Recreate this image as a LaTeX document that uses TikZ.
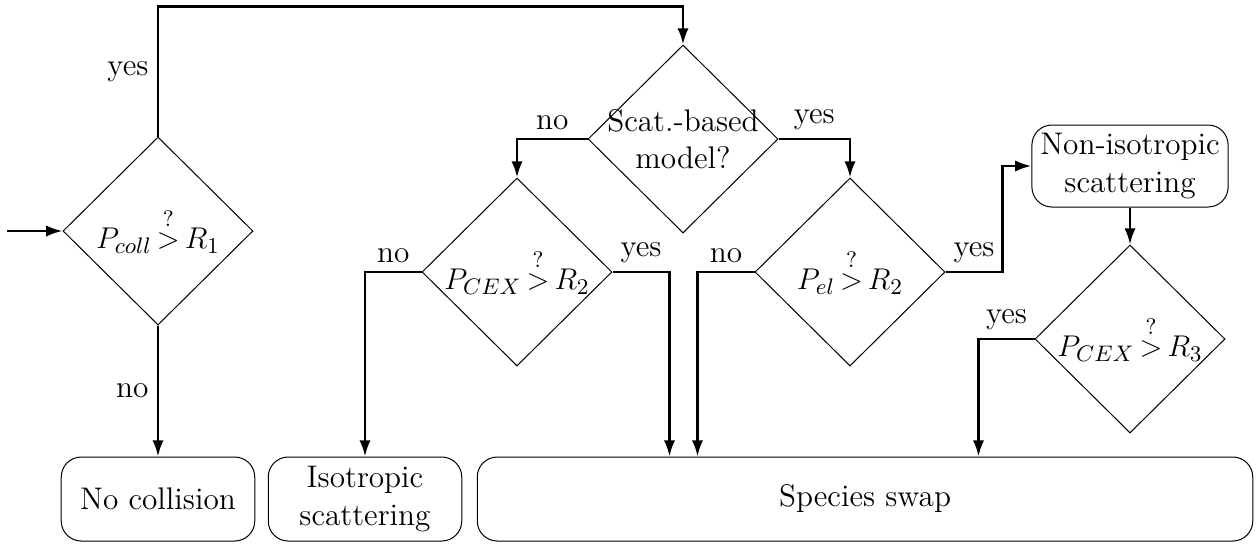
\documentclass[tikz,border=0pt]{standalone}
\usepackage{amsmath}
\usetikzlibrary{shapes.geometric}
\usetikzlibrary{arrows.meta}

\begin{document}
\begin{tikzpicture}
    [
    x=0.4pt, y=-0.4pt,
    decision/.style={diamond,draw,thin,aspect=1,inner sep=-6pt,align=center,minimum width=76pt,minimum height=75.2pt,font={\fontsize{12.5}{15}\selectfont\thickmuskip 3mu\relax}},
    outcome/.style={rectangle,draw,thin,rounded corners=8pt,align=center,minimum height=33.6pt,font=\fontsize{12.5}{15}\selectfont},
    flow/.style={line width=1pt,-{Latex[length=6.5pt,width=4.5pt]}},
    answer/.style={font=\fontsize{12.5}{15}\selectfont},
    ]
    \useasboundingbox (0,0) rectangle (1257,543);

    \node (dcoll) at (158,231) [decision] {$P_{coll} \overset{?}{>} R_1$};
    \node (dmodel) at (683,139) [decision] {Scat.-based\\model?};
    \node (dcex) at (517,272) [decision] {$P_{CEX} \overset{?}{>} R_2$};
    \node (del) at (850,272) [decision] {$P_{el} \overset{?}{>} R_2$};
    \node (noniso) at (1130,166) [outcome,minimum width=77.6pt,minimum height=32.8pt] {Non-isotropic\\scattering};
    \node (dcex3) at (1130,339) [decision] {$P_{CEX} \overset{?}{>} R_3$};
    \node (nocoll) at (158,499) [outcome,minimum width=77.4pt] {No collision};
    \node (iso) at (365,499) [outcome,minimum width=77.4pt] {Isotropic\\scattering};
    \node (swap) at (865,499) [outcome,minimum width=310.2pt] {Species swap};
    \coordinate (start) at (7,231);

    \draw [flow] (start) to (dcoll.west);
    \draw [flow] (dcoll.north) -- node (yes1) [answer,left] {yes} ++(0,-130) -| (dmodel.north);
    \draw [flow] (dcoll.south) -- node (no1) [answer,left] {no} (nocoll.north);
    \draw [flow] (dmodel.west) -| node (no2) [answer,above,pos=0.25] {no} (dcex.north);
    \draw [flow] (dmodel.east) -| node (yes2) [answer,above,pos=0.25] {yes} (del.north);
    \draw [flow] (dcex.west) -| node (no3) [answer,above,pos=0.25] {no} (iso.north);
    \draw [flow] (dcex.east) -- node (yes3) [answer,above] {yes} ++(57,0) coordinate (c1) -- (c1 |- swap.north);
    \draw [flow] (del.west) -- node (no4) [answer,above] {no} ++(-57,0) coordinate (c2) -- (c2 |- swap.north);
    \draw [flow] (del.east) -- node (yes4) [answer,above] {yes} ++(57,0) |- (noniso.west);
    \draw [flow] (noniso.south) to (dcex3.north);
    \draw [flow] (dcex3.west) -- node (yes5) [answer,above] {yes} ++(-56,0) coordinate (c3) -- (c3 |- swap.north);
\end{tikzpicture}
\end{document}
